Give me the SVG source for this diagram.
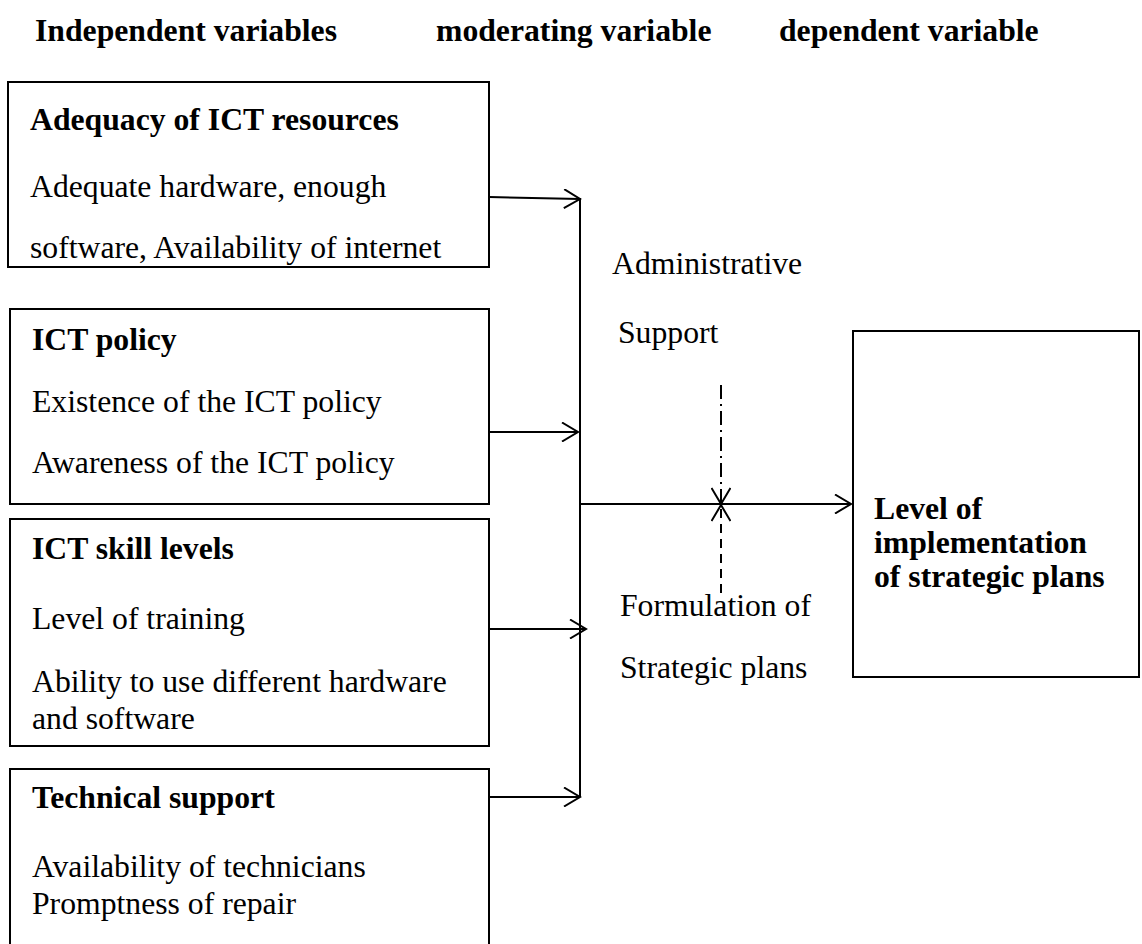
<svg xmlns="http://www.w3.org/2000/svg" width="1142" height="944" viewBox="0 0 1142 944">
<defs>
<style>
text{font-family:"Liberation Serif","Times New Roman",serif;font-size:31.7px;fill:#000}
.b{font-weight:bold}
.box{fill:#fff;stroke:#000;stroke-width:2}
.ln{fill:none;stroke:#000;stroke-width:2}
</style>
<marker id="ah" viewBox="0 0 20 20" refX="18" refY="10" markerWidth="20" markerHeight="20" markerUnits="userSpaceOnUse" orient="auto">
<path d="M2,0.5 L18,10 L2,19.5" fill="none" stroke="#000" stroke-width="2"/>
</marker>
</defs>
<rect width="1142" height="944" fill="#fff"/>
<g id="headers">
<text class="b" x="35" y="41">Independent variables</text>
<text class="b" x="436" y="41">moderating variable</text>
<text class="b" x="779" y="41">dependent variable</text>
</g>
<g id="n1">
<rect class="box" x="8" y="82" width="481" height="185"/>
<text class="b" x="30" y="130">Adequacy of ICT resources</text>
<text x="30" y="197">Adequate hardware, enough</text>
<text x="30" y="258">software, Availability of internet</text>
</g>
<g id="n2">
<rect class="box" x="10" y="309" width="479" height="195"/>
<text class="b" x="32" y="350">ICT policy</text>
<text x="32" y="412">Existence of the ICT policy</text>
<text x="32" y="473">Awareness of the ICT policy</text>
</g>
<g id="n3">
<rect class="box" x="10" y="519" width="479" height="227"/>
<text class="b" x="32" y="559">ICT skill levels</text>
<text x="32" y="629">Level of training</text>
<text x="32" y="692">Ability to use different hardware</text>
<text x="32" y="729">and software</text>
</g>
<g id="n4">
<rect class="box" x="10" y="769" width="479" height="190"/>
<text class="b" x="32" y="808">Technical support</text>
<text x="32" y="877">Availability of technicians</text>
<text x="32" y="914">Promptness of repair</text>
</g>
<g id="n5">
<rect class="box" x="853" y="331" width="286" height="346"/>
<text class="b" x="874" y="519">Level of</text>
<text class="b" x="874" y="553">implementation</text>
<text class="b" x="874" y="587">of strategic plans</text>
</g>
<g id="moderator">
<text x="612" y="274">Administrative</text>
<text x="618" y="343">Support</text>
<text x="620" y="616">Formulation of</text>
<text x="620" y="678">Strategic plans</text>
</g>
<g id="connectors">
<line class="ln" x1="580" y1="198" x2="580" y2="797"/>
<line class="ln" x1="489" y1="197" x2="580" y2="199" marker-end="url(#ah)"/>
<line class="ln" x1="489" y1="432" x2="578" y2="432" marker-end="url(#ah)"/>
<line class="ln" x1="489" y1="629" x2="586" y2="629" marker-end="url(#ah)"/>
<line class="ln" x1="489" y1="797" x2="580" y2="797" marker-end="url(#ah)"/>
<line class="ln" x1="580" y1="504" x2="851" y2="504" marker-end="url(#ah)"/>
<line class="ln" x1="721" y1="385" x2="721" y2="504" stroke-dasharray="14,5,2,5" marker-end="url(#ah)"/>
<line class="ln" x1="721" y1="593" x2="721" y2="505" stroke-dasharray="9,6" marker-end="url(#ah)"/>
</g>
</svg>
